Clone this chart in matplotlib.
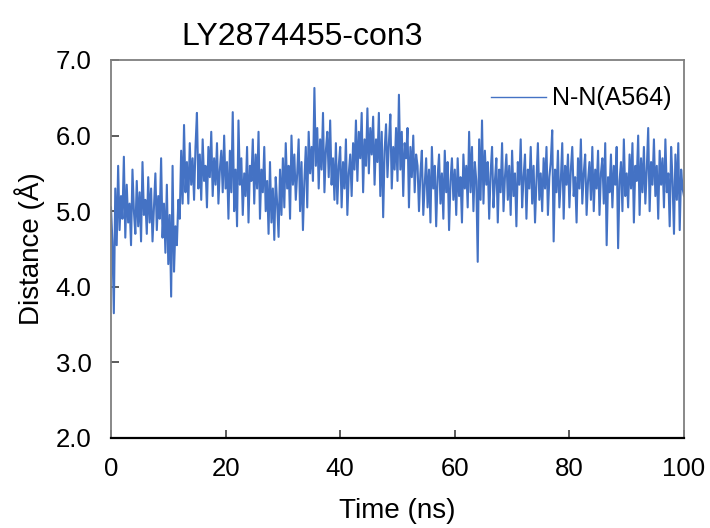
import numpy as np
import matplotlib.pyplot as plt
from matplotlib.ticker import FormatStrFormatter

plt.rcParams['font.family'] = ['Liberation Sans', 'DejaVu Sans']

# distance N-N(A564), un point tous les 0.25 ns
dist = [
    # 0 - 5 ns
    5.05, 4.60, 3.65, 5.30, 4.55, 5.60, 4.75, 5.20, 4.90, 5.72, 4.65, 5.35, 4.85, 5.10, 4.55, 5.55, 5.00, 4.70, 5.40, 4.80,
    # 5 - 10 ns
    5.25, 4.60, 5.65, 4.95, 5.15, 4.70, 5.45, 4.85, 5.30, 4.60, 5.05, 5.50, 4.75, 5.20, 4.90, 5.70, 4.65, 5.10, 4.45, 5.35,
    # 10 - 15 ns
    4.30, 4.95, 3.87, 5.60, 4.20, 4.80, 4.55, 5.15, 4.90, 5.80, 5.10, 6.14, 5.25, 5.65, 5.10, 5.90, 5.35, 5.70, 5.15, 5.85,
    # 15 - 20 ns
    6.30, 5.30, 5.75, 5.15, 5.95, 5.40, 5.60, 5.05, 5.85, 5.45, 6.05, 5.20, 5.70, 5.35, 5.90, 5.10, 5.55, 5.80, 5.25, 6.00,
    # 20 - 25 ns
    5.30, 5.65, 4.90, 5.80, 5.25, 6.31, 5.00, 5.55, 4.80, 6.20, 5.35, 5.70, 4.95, 5.50, 5.20, 5.85, 4.85, 5.60, 5.40, 5.95,
    # 25 - 30 ns
    5.10, 5.75, 5.30, 6.05, 4.90, 5.55, 5.25, 5.85, 5.00, 5.40, 4.70, 5.65, 4.85, 5.30, 4.62, 5.45, 5.10, 4.66, 5.55, 4.95,
    # 30 - 35 ns
    5.70, 5.05, 5.90, 5.30, 5.60, 4.90, 6.00, 5.35, 5.75, 5.15, 5.50, 5.95, 5.00, 5.65, 4.75, 5.40, 5.85, 5.05, 6.05, 5.50,
    # 35 - 40 ns
    5.85, 5.40, 6.63, 5.60, 6.10, 5.30, 5.95, 5.55, 6.30, 5.25, 5.80, 6.05, 5.45, 6.20, 5.35, 5.70, 5.15, 5.90, 5.10, 5.60,
    # 40 - 45 ns
    5.85, 5.05, 5.65, 5.30, 5.95, 4.95, 5.50, 5.75, 5.20, 5.90, 5.55, 6.20, 5.40, 6.05, 5.70, 6.30, 5.25, 5.95, 5.60, 6.36,
    # 45 - 50 ns
    5.50, 6.10, 5.75, 6.25, 5.35, 5.95, 5.65, 6.30, 5.20, 6.05, 4.92, 5.80, 6.15, 5.45, 5.90, 6.28, 5.30, 5.85, 5.55, 6.10,
    # 50 - 55 ns
    5.40, 6.54, 5.55, 6.05, 5.20, 5.90, 5.70, 6.10, 5.05, 5.85, 5.45, 6.00, 5.25, 5.75, 5.60, 5.00, 5.50, 5.80, 4.95, 5.35,
    # 55 - 60 ns
    5.70, 5.05, 5.55, 4.85, 5.85, 5.30, 5.60, 4.80, 5.45, 5.75, 5.10, 5.50, 4.90, 5.80, 5.25, 5.65, 4.75, 5.40, 5.70, 5.15,
    # 60 - 65 ns
    5.55, 4.95, 5.70, 5.20, 5.45, 4.85, 5.75, 5.30, 5.60, 5.05, 6.05, 5.25, 5.85, 5.00, 5.65, 5.40, 4.33, 5.95, 5.15, 6.20,
    # 65 - 70 ns
    5.10, 5.80, 5.35, 5.65, 4.90, 5.50, 5.85, 5.05, 5.40, 5.70, 4.85, 5.55, 5.25, 5.90, 5.00, 5.45, 5.75, 5.15, 5.60, 4.95,
    # 70 - 75 ns
    5.80, 5.20, 5.50, 4.80, 5.65, 5.35, 5.95, 5.05, 5.45, 5.75, 4.90, 5.55, 5.30, 5.85, 5.10, 5.60, 4.85, 5.40, 5.90, 5.15,
    # 75 - 80 ns
    5.50, 5.00, 5.70, 5.30, 5.85, 4.95, 5.45, 5.65, 6.07, 4.60, 5.55, 5.25, 5.80, 5.05, 5.40, 5.90, 4.90, 5.60, 5.35, 5.75,
    # 80 - 85 ns
    5.05, 5.55, 5.85, 5.20, 5.45, 4.85, 5.70, 5.30, 5.95, 5.10, 5.50, 5.75, 4.95, 5.40, 5.65, 5.15, 5.85, 5.00, 5.55, 5.30,
    # 85 - 90 ns
    5.80, 4.95, 5.50, 5.70, 5.10, 5.90, 4.55, 5.45, 5.25, 5.75, 5.05, 5.60, 5.35, 5.85, 4.51, 5.40, 5.65, 5.00, 5.95, 5.20,
    # 90 - 95 ns
    5.50, 5.05, 5.75, 5.30, 5.90, 4.85, 5.60, 5.40, 6.00, 4.95, 5.70, 5.25, 5.85, 5.10, 5.55, 6.10, 5.00, 5.65, 5.35, 5.95,
    # 95 - 100 ns
    5.20, 5.60, 4.90, 5.80, 5.35, 5.70, 5.05, 5.95, 5.25, 5.50, 4.80, 5.85, 5.40, 4.70, 5.75, 5.15, 5.90, 4.75, 5.55, 5.30,
    5.20,
]
time = np.linspace(0, 100, len(dist))

titre = "LY2874455-con3"
label_serie = "N-N(A564)"
xticks = [0, 20, 40, 60, 80, 100]
yticks = [2.0, 3.0, 4.0, 5.0, 6.0, 7.0]

fig = plt.figure(figsize=(7.1, 5.28), dpi=100)
ax = fig.add_axes([0.1563, 0.1705, 0.8071, 0.7159])

ax.plot(time, dist, color='#4472C4', lw=1.5, label=label_serie)

ax.set_xlim(0, 100)
ax.set_ylim(2, 7)
ax.set_xticks(xticks)
ax.set_yticks(yticks)
ax.yaxis.set_major_formatter(FormatStrFormatter('%.1f'))

ax.tick_params(direction='in', length=6, width=1.2, labelsize=18.5, color='#404040')
ax.tick_params(axis='x', pad=14)
ax.tick_params(axis='y', pad=14)

for s in ['top', 'right', 'left']:
    ax.spines[s].set_color('#7f7f7f')
    ax.spines[s].set_linewidth(1.3)
ax.spines['bottom'].set_color('black')
ax.spines['bottom'].set_linewidth(1.6)

ax.set_xlabel("Time (ns)", fontsize=20, labelpad=12)
ax.set_ylabel("Distance (Å)", fontsize=20, labelpad=8)

fig.text(0.425, 0.930, titre, fontsize=23, ha='center', va='center')

leg = ax.legend(loc='upper right', bbox_to_anchor=(1.005, 0.97), frameon=False, fontsize=18,
                handlelength=2.2, handletextpad=0.25, borderaxespad=0.2)
leg.get_lines()[0].set_linewidth(1.0)

plt.savefig('out.png', dpi=100)
